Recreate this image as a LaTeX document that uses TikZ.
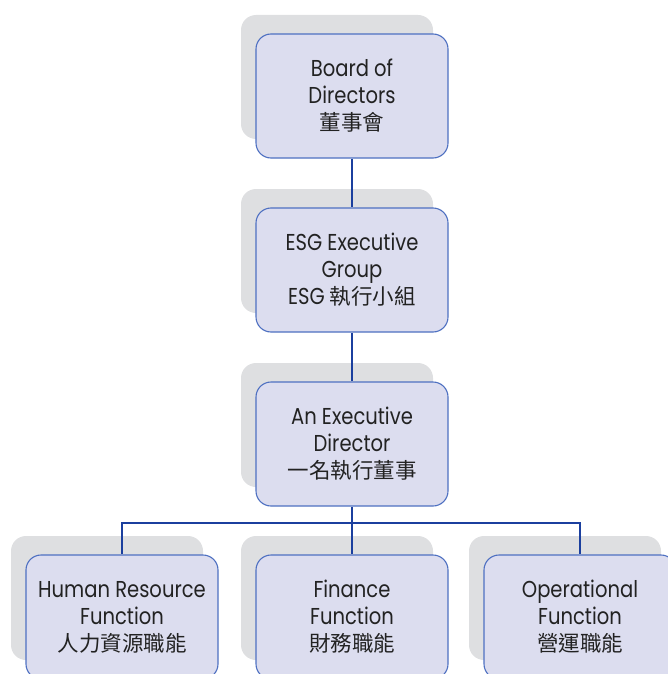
\documentclass[tikz,border=0pt]{standalone}
\usepackage{fontspec}
\setmainfont[FakeStretch=0.85]{Poppins}
\newfontfamily\cjk{Noto Sans CJK TC}
\definecolor{boxfill}{HTML}{DCDDEF}
\definecolor{boxline}{HTML}{4E70C1}
\definecolor{shadowgray}{HTML}{DEDFE1}
\definecolor{linkblue}{HTML}{1B3F9E}
\definecolor{txt}{HTML}{222222}
\pgfdeclarelayer{bg}
\pgfdeclarelayer{mid}
\pgfsetlayers{bg,mid,main}
\tikzset{
  orgbox/.style={draw=boxline, line width=1.1pt, fill=boxfill, rounded corners=15pt,
    minimum width=192pt, minimum height=124pt, inner sep=0pt, align=center,
    text=txt, font=\fontsize{23}{27}\selectfont},
  shadowbox/.style={fill=shadowgray, rounded corners=15pt,
    minimum width=192pt, minimum height=124pt, inner sep=0pt},
  link/.style={draw=linkblue, line width=2.2pt}
}
\newcommand{\zh}[1]{{\cjk\fontsize{21.5}{27}\selectfont #1}}
\begin{document}
\begin{tikzpicture}[x=1pt,y=-1pt]
\useasboundingbox (0,0) rectangle (668,674);
\node[orgbox] (b1) at (352,96) {Board of\\Directors\\\zh{董事會}};
\node[orgbox] (b2) at (352,270) {ESG Executive\\Group\\ESG \zh{執行小組}};
\node[orgbox] (b3) at (352,444) {An Executive\\Director\\\zh{一名執行董事}};
\node[orgbox] (b4) at (122,617) {Human Resource\\Function\\\zh{人力資源職能}};
\node[orgbox] (b5) at (352,617) {Finance\\Function\\\zh{財務職能}};
\node[orgbox] (b6) at (580,617) {Operational\\Function\\\zh{營運職能}};
\begin{pgfonlayer}{bg}
\node[shadowbox] (s1) at (337,77) {};
\node[shadowbox] (s2) at (337,251) {};
\node[shadowbox] (s3) at (337,425) {};
\node[shadowbox] (s4) at (107,598) {};
\node[shadowbox] (s5) at (337,598) {};
\node[shadowbox] (s6) at (565,598) {};
\end{pgfonlayer}
\begin{pgfonlayer}{mid}
\coordinate (j) at (352,523);
\draw[link] (b1.south) -- (b2.north);
\draw[link] (b2.south) -- (b3.north);
\draw[link] (b3.south) -- (j);
\draw[link] (j) -- (b5.north);
\draw[link] (b4.north) -- (b4.north |- j) -- (b6.north |- j) -- (b6.north);
\end{pgfonlayer}
\end{tikzpicture}
\end{document}
